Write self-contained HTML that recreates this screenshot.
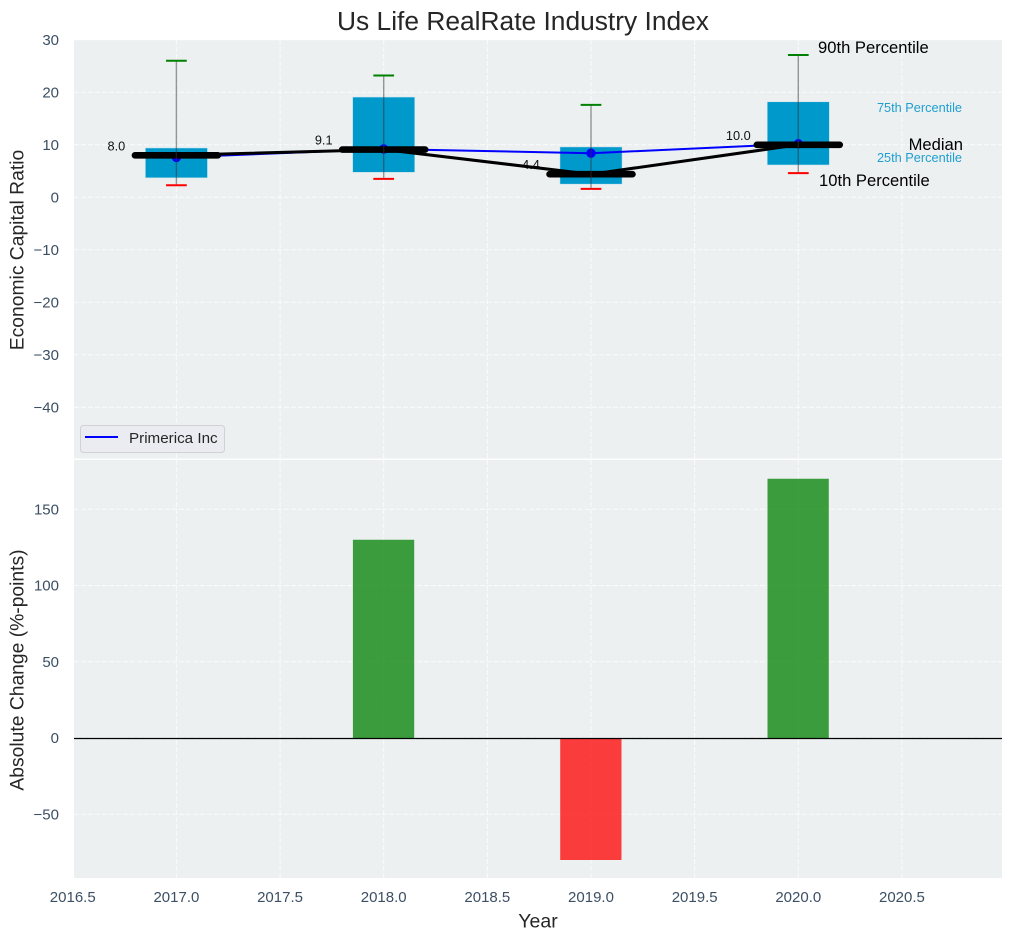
<!DOCTYPE html>
<html>
<head>
<meta charset="utf-8">
<title>Us Life RealRate Industry Index</title>
<style>
html,body{margin:0;padding:0;background:#fff;}
svg{display:block;font-family:"Liberation Sans",Arial,sans-serif;}
</style>
</head>
<body>
<svg id="chart" xmlns="http://www.w3.org/2000/svg" width="1012" height="940" viewBox="0 0 1012 940"></svg>
<script>
const years = [2017, 2018, 2019, 2020];
const p90 = [26, 23.2, 17.6, 27.1];
const p75 = [9.4, 19.1, 9.6, 18.2];
const medians = [8.0, 9.1, 4.4, 10.0];
const p25 = [3.7, 4.75, 2.5, 6.15];
const p10 = [2.3, 3.5, 1.6, 4.6];
const company = [7.6, 9.2, 8.4, 10.2];
const changes = [0, 130, -80, 170];
const medianLabels = ['8.0', '9.1', '4.4', '10.0'];
const xTicks = [2016.5, 2017, 2017.5, 2018, 2018.5, 2019, 2019.5, 2020, 2020.5];
const xTickLabels = ['2016.5', '2017.0', '2017.5', '2018.0', '2018.5', '2019.0', '2019.5', '2020.0', '2020.5'];
const topTicks = [30, 20, 10, 0, -10, -20, -30, -40];
const topTickLabels = ['30', '20', '10', '0', '\u221210', '\u221220', '\u221230', '\u221240'];
const bottomTicks = [150, 100, 50, 0, -50];
const bottomTickLabels = ['150', '100', '50', '0', '\u221250'];

const NS = 'http://www.w3.org/2000/svg';
const svg = document.getElementById('chart');
const X = v => 176.4 + (v - 2017) * 207.3;
const YT = v => 197.3 - v * 5.25;
const YB = v => 738 - v * 1.525;
const BOX_HALF = 0.15, CAP_HALF = 0.05, MED_HALF = 0.2;

function mk(tag, attrs, text) {
  const el = document.createElementNS(NS, tag);
  for (const k in attrs) el.setAttribute(k, attrs[k]);
  if (text !== undefined) el.textContent = text;
  svg.appendChild(el);
  return el;
}
function tag(el, name, inter) {
  
  
  return el;
}
const TICK = '#3c4f63', INK = '#262626';

// axes backgrounds
tag(mk('rect', {x:74, y:40, width:928, height:418.5, fill:'#ecf0f1'}), 'top-plot-area');
tag(mk('rect', {x:74, y:460, width:928, height:418, fill:'#ecf0f1'}), 'bottom-plot-area');

// grids
const gridStyle = {stroke:'#ffffff', 'stroke-width':1, 'stroke-opacity':0.75, 'stroke-dasharray':'5 2', fill:'none'};
xTicks.forEach((t) => {
  const px = X(t);
  if (px < 74) return;
  tag(mk('line', Object.assign({x1:px, x2:px, y1:40, y2:458.5}, gridStyle)), 'top-x-gridline');
  tag(mk('line', Object.assign({x1:px, x2:px, y1:460, y2:878}, gridStyle)), 'bottom-x-gridline');
});
topTicks.forEach((t) => {
  tag(mk('line', Object.assign({x1:74, x2:1002, y1:YT(t), y2:YT(t)}, gridStyle)), 'top-y-gridline');
});
bottomTicks.forEach((t) => {
  tag(mk('line', Object.assign({x1:74, x2:1002, y1:YB(t), y2:YB(t)}, gridStyle)), 'bottom-y-gridline');
});

// tick labels
xTicks.forEach((t, i) => {
  tag(mk('text', {x:X(t), y:902, 'text-anchor':'middle', 'font-size':15, fill:TICK}, xTickLabels[i]), 'x-tick-label');
});
topTicks.forEach((t, i) => {
  tag(mk('text', {x:59, y:YT(t) + 5, 'text-anchor':'end', 'font-size':15, fill:TICK}, topTickLabels[i]), 'top-y-tick-label');
});
bottomTicks.forEach((t, i) => {
  tag(mk('text', {x:59, y:YB(t) + 5, 'text-anchor':'end', 'font-size':15, fill:TICK}, bottomTickLabels[i]), 'bottom-y-tick-label');
});

// boxes
years.forEach((yr, i) => {
  tag(mk('rect', {
    x: X(yr - BOX_HALF), y: YT(p75[i]),
    width: X(yr + BOX_HALF) - X(yr - BOX_HALF),
    height: YT(p25[i]) - YT(p75[i]),
    fill:'#0099cc', stroke:'#cfe6ee', 'stroke-width':0.6
  }), 'iqr-box-' + yr);
});

// median value labels (under the lines)
years.forEach((yr, i) => {
  tag(mk('text', {x:X(yr) - 60, y:YT(medians[i]) - 5, 'text-anchor':'middle', 'font-size':12.75, fill:'#111'}, medianLabels[i]), 'median-value-label');
});

// blue company line
tag(mk('polyline', {
  points: years.map((yr, i) => X(yr) + ',' + YT(company[i])).join(' '),
  fill:'none', stroke:'#0000ff', 'stroke-width':2
}), 'primerica-line');
years.forEach((yr, i) => {
  tag(mk('circle', {cx:X(yr), cy:YT(company[i]), r:4.7, fill:'#0000ff'}), 'primerica-point');
});

// median connector and thick medians
tag(mk('polyline', {
  points: years.map((yr, i) => X(yr) + ',' + YT(medians[i])).join(' '),
  fill:'none', stroke:'#000', 'stroke-width':3
}), 'median-line');
years.forEach((yr, i) => {
  tag(mk('line', {x1:X(yr - MED_HALF), x2:X(yr + MED_HALF), y1:YT(medians[i]), y2:YT(medians[i]), stroke:'#000', 'stroke-width':6.6, 'stroke-linecap':'round'}), 'median-bar-' + yr);
});

// whiskers and caps
years.forEach((yr, i) => {
  tag(mk('line', {x1:X(yr), x2:X(yr), y1:YT(p90[i]), y2:YT(p10[i]), stroke:'#333', 'stroke-opacity':0.5, 'stroke-width':1.4}), 'whisker-' + yr);
  tag(mk('line', {x1:X(yr - CAP_HALF), x2:X(yr + CAP_HALF), y1:YT(p90[i]), y2:YT(p90[i]), stroke:'#008000', 'stroke-width':2}), 'cap-90th-' + yr);
  tag(mk('line', {x1:X(yr - CAP_HALF), x2:X(yr + CAP_HALF), y1:YT(p10[i]), y2:YT(p10[i]), stroke:'#ff0000', 'stroke-width':2}), 'cap-10th-' + yr);
});

// percentile annotations
tag(mk('text', {x:818, y:53, 'font-size':16.6, fill:'#000'}, '90th Percentile'), 'label-90th-percentile');
tag(mk('text', {x:962, y:112, 'text-anchor':'end', 'font-size':12.75, fill:'#1f9fd0'}, '75th Percentile'), 'label-75th-percentile');
tag(mk('text', {x:963, y:150, 'text-anchor':'end', 'font-size':16.6, fill:'#000'}, 'Median'), 'label-median');
tag(mk('text', {x:962, y:162, 'text-anchor':'end', 'font-size':12.75, fill:'#1f9fd0'}, '25th Percentile'), 'label-25th-percentile');
tag(mk('text', {x:819, y:186, 'font-size':16.6, fill:'#000'}, '10th Percentile'), 'label-10th-percentile');

// legend
tag(mk('rect', {x:80.5, y:425.5, width:144, height:27, rx:3, ry:3, fill:'#eaecf1', stroke:'#cfd1d4', 'stroke-width':1}), 'legend-box');
tag(mk('line', {x1:85, x2:118, y1:437, y2:437, stroke:'#0000ff', 'stroke-width':2}), 'legend-line-primerica');
tag(mk('text', {x:129, y:443, 'font-size':15.2, fill:INK}, 'Primerica Inc'), 'legend-label-primerica');

// change bars
years.forEach((yr, i) => {
  if (changes[i] === 0) return;
  const top = Math.min(YB(changes[i]), YB(0));
  const h = Math.abs(YB(changes[i]) - YB(0));
  tag(mk('rect', {
    x: X(yr - BOX_HALF) + 0.3, y: top,
    width: X(yr + BOX_HALF) - X(yr - BOX_HALF) - 0.9, height: h,
    fill: changes[i] > 0 ? '#008000' : '#ff0000', 'fill-opacity':0.75
  }), 'change-bar-' + yr);
});
tag(mk('line', {x1:74, x2:1002, y1:YB(0) + 0.5, y2:YB(0) + 0.5, stroke:'#000', 'stroke-width':1.3}), 'zero-line');

// titles
tag(mk('text', {x:523, y:30, 'text-anchor':'middle', 'font-size':26.35, fill:INK}, 'Us Life RealRate Industry Index'), 'chart-title');
tag(mk('text', {x:538, y:927.5, 'text-anchor':'middle', 'font-size':19.5, fill:INK}, 'Year'), 'x-axis-title');
tag(mk('text', {x:23.5, y:250, 'text-anchor':'middle', 'font-size':19.3, fill:INK, transform:'rotate(-90 23.5 250)'}, 'Economic Capital Ratio'), 'top-y-axis-title');
tag(mk('text', {x:23.5, y:670, 'text-anchor':'middle', 'font-size':19.3, fill:INK, transform:'rotate(-90 23.5 670)'}, 'Absolute Change (%-points)'), 'bottom-y-axis-title');
</script>
</body>
</html>
